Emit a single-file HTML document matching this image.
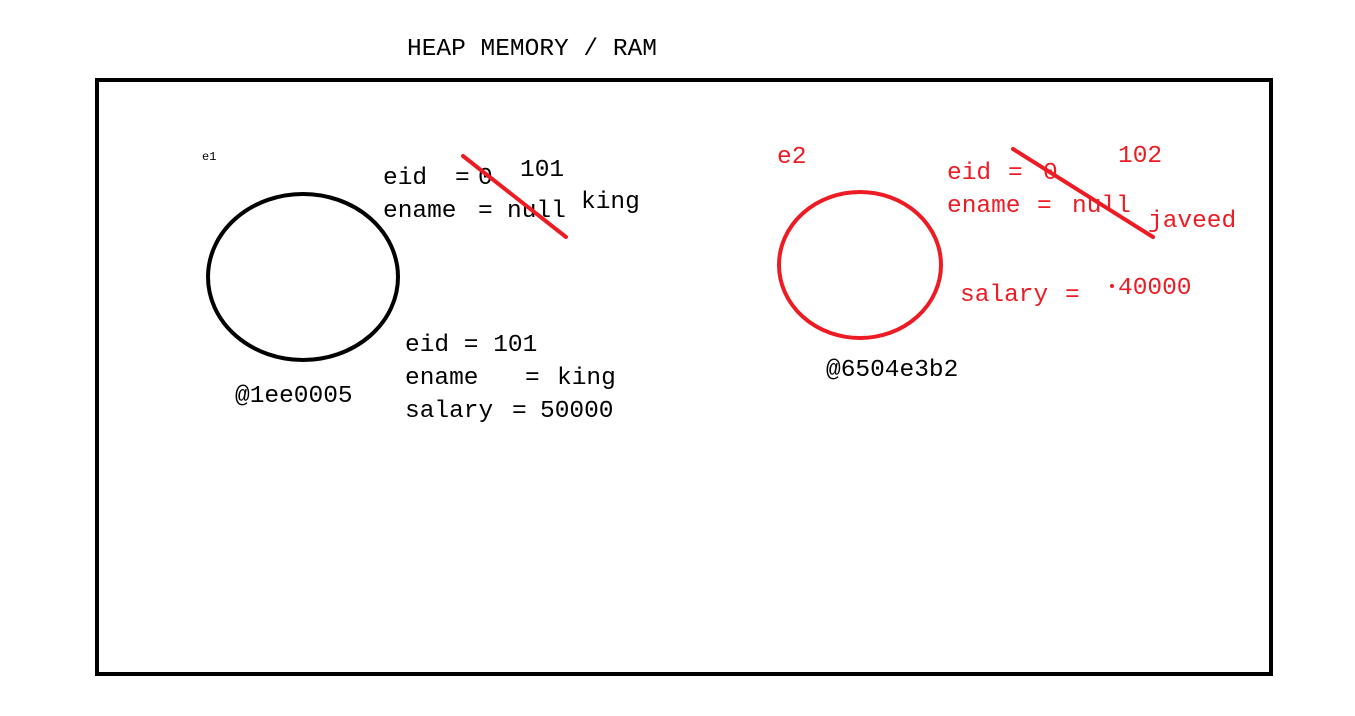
<!DOCTYPE html>
<html><head><style>
html,body{margin:0;padding:0;background:#fff;width:1355px;height:716px;overflow:hidden}
text{font-family:"Liberation Mono","DejaVu Sans Mono",monospace;font-size:24.5px}
</style></head><body>
<svg width="1355" height="716" xmlns="http://www.w3.org/2000/svg">
<text x="407" y="55" fill="#000">HEAP MEMORY / RAM</text>
<rect x="97" y="80" width="1174" height="594" fill="none" stroke="#000" stroke-width="4"/>
<text x="202" y="160" fill="#000" style="font-size:12px">e1</text>
<g fill="#000">
<text x="383" y="184">eid</text><text x="455" y="184">=</text><text x="478" y="184">0</text>
<text x="383" y="217">ename</text><text x="478" y="217">=</text><text x="507" y="217">null</text>
<text x="520" y="176">101</text>
<text x="581" y="208">king</text>
</g>
<line x1="463" y1="156" x2="566" y2="237" stroke="#ed1c24" stroke-width="4" stroke-linecap="round"/>
<ellipse cx="303" cy="277" rx="95" ry="83" fill="none" stroke="#000" stroke-width="4"/>
<g fill="#000">
<text x="235" y="402">@1ee0005</text>
<text x="405" y="351">eid = 101</text>
<text x="405" y="384">ename</text><text x="525" y="384">=</text><text x="557" y="384">king</text>
<text x="405" y="417">salary</text><text x="512" y="417">=</text><text x="540" y="417">50000</text>
</g>
<g fill="#ed1c24">
<text x="777" y="163">e2</text>
<text x="947" y="179">eid</text><text x="1008" y="179">=</text><text x="1043" y="179">0</text>
<text x="947" y="212">ename</text><text x="1037" y="212">=</text><text x="1072" y="212">null</text>
<text x="1118" y="162">102</text>
<text x="1148" y="227">javeed</text>
<text x="960" y="301">salary</text><text x="1065" y="301">=</text>
<circle cx="1112" cy="286" r="2"/>
<text x="1118" y="294">40000</text>
</g>
<line x1="1013" y1="149" x2="1153" y2="237" stroke="#ed1c24" stroke-width="4" stroke-linecap="round"/>
<ellipse cx="860" cy="265" rx="81" ry="73" fill="none" stroke="#ed1c24" stroke-width="4"/>
<text x="826" y="376" fill="#000">@6504e3b2</text>
</svg>
</body></html>
